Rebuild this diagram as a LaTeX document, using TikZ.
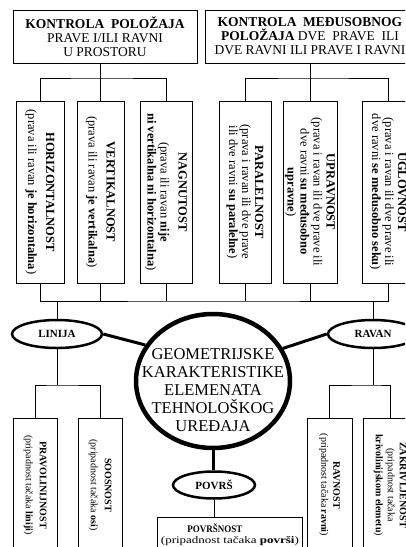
\documentclass[tikz,border=0pt]{standalone}
\usepackage{fontspec}
\setmainfont{Liberation Serif}
\usetikzlibrary{shapes.geometric}
\begin{document}
\begin{tikzpicture}[x=1pt,y=-1pt,
  wire/.style={line width=0.8pt},
  box/.style={draw, line width=0.8pt, inner sep=0pt, align=center},
  topbox/.style={box, minimum height=53pt, font=\fontsize{13.5}{14}\selectfont},
  vbox/.style={box, rotate=-90, minimum width=182pt, font=\fontsize{12.5}{13}\selectfont},
  bbox/.style={box, rotate=-90, minimum width=134pt, font=\fontsize{10}{14}\selectfont},
  oval/.style={draw, ellipse, line width=2.5pt, inner sep=0pt, font=\bfseries\fontsize{11}{13}\selectfont},
  link/.style={line width=3pt},
]
\useasboundingbox (0,0) rectangle (405,547);
\clip (0,0) rectangle (405,547);

% top boxes
\node[topbox, minimum width=184pt] (tl) at (105,36.5)
  {\textbf{KONTROLA\ \ POLOŽAJA}\\PRAVE I/ILI RAVNI\\U PROSTORU};
\node[topbox, minimum width=210pt] (tr) at (310,36.5)
  {\textbf{KONTROLA\ \ MEĐUSOBNOG}\\\textbf{POLOŽAJA} DVE\ \ PRAVE\ \ ILI\\DVE RAVNI ILI PRAVE I RAVNI};

% vertical boxes
\node[vbox, minimum height=48pt] (h1) at (40,192)
  {\textbf{HORIZONTALNOST}\\[5pt](prava ili ravan \textbf{je horizontalna})};
\node[vbox, minimum height=47pt] (h2) at (100.5,192)
  {\textbf{VERTIKALNOST}\\[5pt](prava ili ravan \textbf{je vertikalna})};
\node[vbox, minimum height=52pt] (h3) at (166,192)
  {\textbf{NAGNUTOST}\\[5pt](prava ili ravan \textbf{nije}\\\textbf{ni vertikalna ni horizontalna})};
\node[vbox, minimum height=52pt] (r1) at (245,192)
  {\textbf{PARALELNOST}\\(prava i ravan ili dve prave\\ili dve ravni \textbf{su paralelne})};
\node[vbox, minimum height=54pt] (r2) at (310,192)
  {\textbf{UPRAVNOST}\\(prava i ravan ili dve prave ili\\dve ravni \textbf{su međusobno}\\\textbf{upravne})};
\node[vbox, minimum height=52pt] (r3) at (388,192)
  {\textbf{UGLOVNOST}\\(prava i ravan ili dve prave ili\\dve ravni \textbf{se međusobno seku})};

% top connectors
\coordinate (lj) at (100.5,78);
\coordinate (rj) at (310,78);
\draw[wire] (h2.west) -- (tl.south -| h2.west);
\draw[wire] (h1.west) |- (lj) -| (h3.west);
\draw[wire] (r2.west) -- (tr.south -| r2.west);
\draw[wire] (r1.west) |- (rj) -| (r3.west);

% center circle
\node[draw, ellipse, line width=4.5pt, minimum width=154pt, minimum height=134pt, inner sep=0pt] (circ) at (213,381) {};
\node[align=center, font=\fontsize{16.5}{18}\selectfont] (ctext) at (213,390)
  {GEOMETRIJSKE\\KARAKTERISTIKE\\ELEMENATA\\TEHNOLOŠKOG\\UREĐAJA};

% ovals
\node[oval, minimum width=90pt, minimum height=28pt] (lin) at (57,334) {LINIJA};
\node[oval, minimum width=90pt, minimum height=28pt] (rav) at (373,334) {RAVAN};
\node[oval, minimum width=82pt, minimum height=27pt] (pov) at (214,485) {POVRŠ};

% bottom junction under vertical boxes
\coordinate (mj) at (213,301);
\draw[wire] (h1.east) |- (mj) -| (r3.east);
\foreach \n in {h2,h3,r1,r2} \draw[wire] (\n.east) -- (\n.east |- mj);
\draw[wire] (lin.north) -- (lin.north |- mj);
\draw[wire] (rav.north) -- (rav.north |- mj);

% thick links
\draw[link] (lin.east) -- (circ.152);
\draw[link] (rav.west) -- (circ.25);
\draw[link] (circ.south) -- (circ.south |- pov.north);

% bottom boxes
\node[bbox, minimum height=44pt] (b1) at (35,485)
  {\textbf{PRAVOLINIJNOST}\\(pripadnost tačaka \textbf{liniji})};
\node[bbox, minimum height=44pt] (b2) at (100,485)
  {\textbf{SOOSNOST}\\(pripadnost tačaka \textbf{osi})};
\node[bbox, minimum height=45pt, font=\fontsize{10}{12}\selectfont] (b3) at (329.5,485)
  {\textbf{RAVNOST}\\(pripadnost tačaka \textbf{ravni})};
\node[bbox, minimum height=54pt, font=\fontsize{10}{12}\selectfont] (b4) at (390,485)
  {\textbf{ZAKRIVLJENOST}\\(pripadnost tačaka\\\textbf{krivolinijskom elemetu})};

\coordinate (llj) at (57,385);
\coordinate (rrj) at (373,385);
\draw[wire] (lin.south) -- (llj);
\draw[wire] (b1.west) |- (llj) -| (b2.west);
\draw[wire] (rav.south) -- (rrj);
\draw[wire] (b3.west) |- (rrj) -| (b4.west);

% povrsnost
\node[box, anchor=north west, minimum width=145pt, minimum height=34pt, font=\fontsize{10}{11}\selectfont] (pb) at (157,517)
  {\scalebox{0.9}[1]{\textbf{POVRŠNOST}}\hspace*{30pt}\\\scalebox{1.3}[1]{(pripadnost tačaka \textbf{površi})}};
\draw[wire] (pov.south) -- (pov.south |- pb.north);
\end{tikzpicture}
\end{document}
